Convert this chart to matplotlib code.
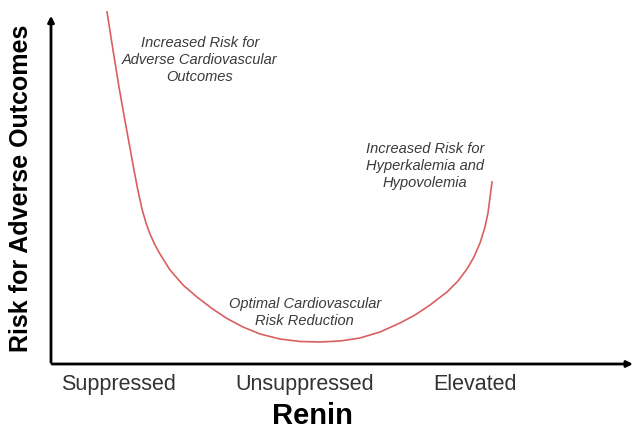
import matplotlib
matplotlib.use('Agg')
import matplotlib.pyplot as plt

# renin level (x) vs risk (y) in arbitrary units 0-10
renin = [0.956, 1.058, 1.160, 1.263, 1.348, 1.416, 1.485, 1.553, 1.621,
         1.689, 1.775, 1.860, 2.031, 2.253, 2.491, 2.747, 3.003, 3.276,
         3.567, 3.908, 4.249, 4.590, 4.932, 5.273, 5.614, 5.956, 6.212,
         6.468, 6.758, 6.945, 7.099, 7.218, 7.321, 7.406, 7.457, 7.526]
risk = [9.805, 8.747, 7.716, 6.769, 6.017, 5.404, 4.819, 4.318, 3.928,
        3.621, 3.315, 3.064, 2.618, 2.201, 1.866, 1.546, 1.267, 1.031,
        0.836, 0.696, 0.627, 0.613, 0.641, 0.724, 0.891, 1.142, 1.365,
        1.643, 2.006, 2.312, 2.646, 2.981, 3.370, 3.816, 4.206, 5.070]

tick_pos = [1.16, 4.33, 7.24]
tick_labels = ['Suppressed', 'Unsuppressed', 'Elevated']

notes = [
    ('Increased Risk for\nAdverse Cardiovascular\nOutcomes', 2.54, 8.47),
    ('Increased Risk for\nHyperkalemia and\nHypovolemia', 6.38, 5.52),
    ('Optimal Cardiovascular\nRisk Reduction', 4.33, 1.43),
]

plt.rcParams['font.family'] = ['Liberation Sans', 'DejaVu Sans']

fig = plt.figure(figsize=(6.37, 4.34), dpi=100)
ax = fig.add_axes([51 / 637, 70 / 434, 586 / 637, 359 / 434])
ax.set_xlim(0, 10)
ax.set_ylim(0, 10)

ax.plot(renin, risk, color='#d9605f', lw=1.2, clip_on=False)

for txt, x, y in notes:
    ax.text(x, y, txt, ha='center', va='center', style='italic',
            fontsize=10.5, color='#3a3a3a', linespacing=1.3)

# axes drawn as arrows
for s in ax.spines.values():
    s.set_visible(False)
ax.annotate('', xy=(0, 0.978), xytext=(0, -0.003), xycoords='axes fraction',
            arrowprops=dict(arrowstyle='-|>', color='black', lw=2, mutation_scale=9))
ax.annotate('', xy=(0.998, 0), xytext=(-0.003, 0), xycoords='axes fraction',
            arrowprops=dict(arrowstyle='-|>', color='black', lw=2, mutation_scale=9))

ax.set_xticks(tick_pos)
ax.set_xticklabels(tick_labels, fontsize=15.5, color='#333333')
ax.tick_params(axis='x', length=0, pad=7)
ax.set_yticks([])

ax.set_xlabel('Renin', fontsize=21, fontweight='bold')
ax.xaxis.set_label_coords((312 - 51) / 586, (364 - 402) / 359)
ax.set_ylabel('Risk for Adverse Outcomes', fontsize=18, fontweight='bold')
ax.yaxis.set_label_coords((33 - 51) / 586, (364 - 188) / 359)

fig.savefig('out.png', dpi=100)
